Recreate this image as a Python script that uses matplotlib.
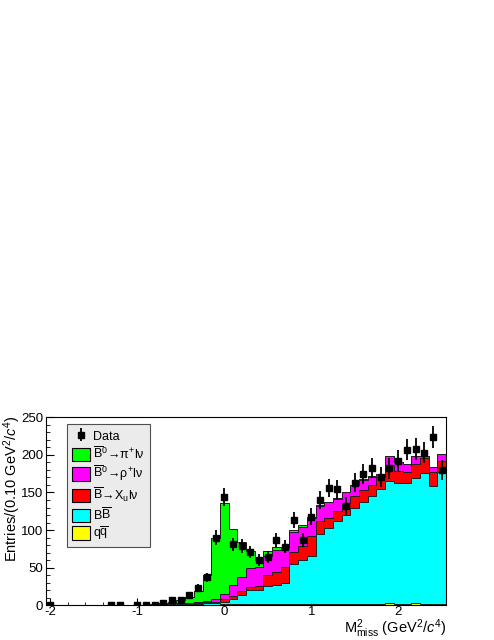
import numpy as np
import matplotlib
matplotlib.use('Agg')
from matplotlib import pyplot as plt
from matplotlib.patches import Patch
from matplotlib.ticker import MultipleLocator

# M^2_miss bins, 0.10 GeV^2/c^4 wide, centres from -2.0 to 2.5
m2_centres = np.linspace(-2.0, 2.5, 46)

data_counts = [1, 0, 0, 0, 0, 0, 0, 1, 1, 0,
               1, 1, 1, 3, 7, 7, 14, 23, 37, 90,
               144, 81, 79, 71, 60, 64, 87, 78, 114, 87,
               118, 140, 156, 154, 132, 163, 175, 183, 171, 182,
               192, 207, 208, 203, 224, 180]

# MC components (stacked bottom -> top)
qq_yield = [0.2] * 10 + [0.2, 0.3, 0.3, 0.5, 0.5, 0.5, 1, 1, 1, 1,
                         1.5, 1.5, 2, 2, 2, 2, 2, 2, 2, 2,
                         2, 2, 2, 2, 2, 2, 2, 2, 2, 3,
                         2, 2, 3, 2, 2, 2]
bb_yield = [0] * 10 + [0.1, 0.1, 0.2, 0.5, 0.5, 1, 1, 1, 1.5, 2,
                       2.5, 6.5, 12, 18, 19, 24, 25, 28, 53, 58,
                       64, 93, 101, 110, 118, 127, 136, 144, 153, 162,
                       161, 160, 166, 174, 156, 175]
xu_yield = [0] * 10 + [0, 0.1, 0.2, 0.5, 0.5, 0.5, 0.5, 1, 1.5, 2,
                       4, 4, 5, 5, 5, 14, 17, 21, 16, 19,
                       26, 17, 13, 13, 16, 17, 15, 14, 16, 21,
                       16, 15, 19, 20, 19, 15]
rho_yield = [0] * 10 + [0, 0, 0.1, 0.5, 1, 1, 1, 1.5, 2, 3,
                        7, 15, 19, 24, 25, 26, 30, 25, 26, 25,
                        24, 20, 21, 17, 14, 14, 14, 11, 3, 12,
                        11, 11, 10, 2, 7, 9]
pi_yield = [0.1] * 10 + [0.2, 0.3, 0.7, 1, 2, 3.5, 7.5, 14.5, 34, 81,
                         121, 75, 46, 23, 9, 6, 4, 0.5, 3, 3,
                         1, 1, 0.5, 0.5, 0.5, 0.5, 0.5, 0.5, 0.5, 0.5,
                         0, 0, 0, 0, 0, 0]

labels = ['$\\overline{\\rm B}^{0}\\!\\rightarrow\\!\\pi^{+}l\\nu$',
          '$\\overline{\\rm B}^{0}\\!\\rightarrow\\!\\rho^{+}l\\nu$',
          '$\\overline{\\rm B}\\!\\rightarrow\\!X_{u}l\\nu$',
          '$\\rm B\\overline{B}$',
          '$\\rm q\\overline{q}$']
colors = ['#00ff00', '#ff00ff', '#ff0000', '#00ffff', '#ffff00']

plt.rcParams['font.family'] = ['Liberation Sans', 'DejaVu Sans']
plt.rcParams['mathtext.fontset'] = 'custom'
plt.rcParams['mathtext.rm'] = 'Liberation Sans'
plt.rcParams['mathtext.it'] = 'Liberation Sans:italic'
plt.rcParams['mathtext.default'] = 'regular'
plt.rcParams['axes.unicode_minus'] = False

fig = plt.figure(figsize=(4.94, 6.40), dpi=100)
ax = fig.add_axes([46 / 494, 34.7 / 640, 400 / 494, 188 / 640])

half = 0.05
edges = np.append(m2_centres - half, m2_centres[-1] + half)

# cumulative stack, draw from the top component down
layers = [qq_yield, bb_yield, xu_yield, rho_yield, pi_yield]
stack = np.cumsum(np.array(layers, dtype=float), axis=0)
for i in range(len(layers) - 1, -1, -1):
    ax.stairs(stack[i], edges, fill=True, facecolor=colors[::-1][i],
              edgecolor='none', zorder=2)
    ax.stairs(stack[i], edges, fill=False, edgecolor='#202020',
              linewidth=0.7, zorder=2)

counts = np.array(data_counts, dtype=float)
shown = counts > 0
data_h = ax.errorbar(m2_centres[shown], counts[shown], yerr=np.sqrt(counts[shown]),
                     fmt='s', color='black', markersize=5, elinewidth=1.3,
                     capsize=0, zorder=5)

ax.set_xlim(-2.05, 2.55)
ax.set_ylim(0, 250)
ax.xaxis.set_major_locator(MultipleLocator(1))
ax.xaxis.set_minor_locator(MultipleLocator(0.2))
ax.yaxis.set_major_locator(MultipleLocator(50))
ax.yaxis.set_minor_locator(MultipleLocator(10))
ax.tick_params(which='both', direction='in', labelsize=9.5, top=False, right=False)
ax.tick_params(axis='y', which='major', length=6, pad=2)
ax.tick_params(axis='y', which='minor', length=3)
ax.tick_params(axis='x', which='major', length=5, pad=0.5)
ax.tick_params(axis='x', which='minor', length=2.5)
for s in ax.spines.values():
    s.set_linewidth(0.8)

handles = [data_h] + [Patch(facecolor=c, edgecolor='black', linewidth=0.8) for c in colors]
leg = ax.legend(handles, ['Data'] + labels, loc='upper left',
                bbox_to_anchor=(0.0525, 0.964), borderaxespad=0, fontsize=9,
                handlelength=1.4, handleheight=1.3, labelspacing=0.2,
                handletextpad=0.3, borderpad=0.4, fancybox=False,
                edgecolor='#505050', facecolor='#ebebeb', framealpha=1)
leg.get_frame().set_linewidth(0.8)

fig.text(12 / 494, 1 - 415 / 640, 'Entries/(0.10 GeV$^2$/$\\mathit{c}^4$)',
         rotation=90, ha='center', va='top', fontsize=10.5)
fig.text(446 / 494, 1 - 629 / 640, 'M$^2_{miss}$ (GeV$^2$/$\\mathit{c}^4$)',
         ha='right', va='center', fontsize=10.5)

fig.savefig('out.png', dpi=100)
